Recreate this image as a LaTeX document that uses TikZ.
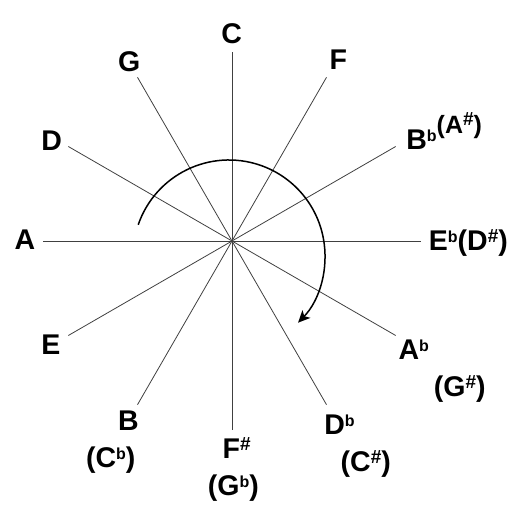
\documentclass[tikz,border=0pt]{standalone}
\usepackage{fontspec}
\setmainfont{Liberation Sans}
\usetikzlibrary{arrows.meta,calc}
\newcommand\supx[1]{\raisebox{8pt}{\fontsize{16}{16}\selectfont #1}}
\newcommand\supsh{\raisebox{8pt}{\fontsize{19}{19}\selectfont\#}}
\begin{document}
\begin{tikzpicture}[x=1pt,y=-1pt,
  ray/.style={draw=black!75,line width=0.8pt},
  lbl/.style={inner sep=0pt,anchor=base,font=\fontsize{28.5}{30}\selectfont\bfseries}]
\useasboundingbox (0,0) rectangle (519,519);
\coordinate (O) at (232,241);
\foreach \n/\a in {eC/-90,eG/-120,eF/-60,eD/-150,eBb/-30,eA/180,eEb/0,eE/150,eB/120,eFs/90,eDb/60,eAb/30}{
  \coordinate (\n) at ($(O)+(\a:189)$);
  \draw[ray] (O) -- (\n);
}
\draw[line width=1.5pt,-{Stealth[length=12pt,width=11pt,inset=3pt]}]
  ($(229,256)+(-161:96)$) arc[start angle=-161,end angle=44,radius=96];
\node[lbl] (C) at (231.7,43.3) {C};
\node[lbl] (G) at (129.2,71) {G};
\node[lbl] (F) at (338.3,69.3) {F};
\node[lbl] (D) at (51.7,150) {D};
\node[lbl] (Bb) at (444.2,149) {B\supx{b}\raisebox{16pt}{\fontsize{25}{25}\selectfont(A\supsh)}};
\node[lbl] (A) at (25,249.3) {A};
\node[lbl] (Eb) at (468.4,250) {E\supx{b}(D\supsh)};
\node[lbl] (E) at (51,354.3) {E};
\node[lbl] (B) at (128.3,430) {B};
\node[lbl] (Cb) at (110.8,467.3) {(C\supx{b})};
\node[lbl] (Fs) at (236.7,458.3) {F\supsh};
\node[lbl] (Gb) at (233.3,495) {(G\supx{b})};
\node[lbl] (Db) at (339.5,434) {D\supx{b}};
\node[lbl] (Cs) at (365.8,471.7) {(C\supsh)};
\node[lbl] (Ab) at (413.8,359.3) {A\supx{b}};
\node[lbl] (Gs) at (459.7,396.7) {(G\supsh)};
\end{tikzpicture}
\end{document}
